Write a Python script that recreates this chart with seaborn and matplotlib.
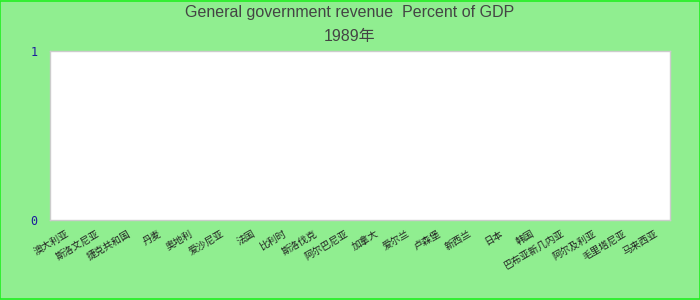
import numpy as np
import pandas as pd
import matplotlib
matplotlib.use("Agg")
import matplotlib.pyplot as plt
import seaborn as sns
from matplotlib.patches import Rectangle

# ---- data -------------------------------------------------------------
title_line1 = "General government revenue  Percent of GDP"
title_line2 = "1989年"
categories = ["澳大利亚", "斯洛文尼亚", "捷克共和国", "丹麦", "奥地利", "爱沙尼亚",
              "法国", "比利时", "斯洛伐克", "阿尔巴尼亚", "加拿大", "爱尔兰",
              "卢森堡", "新西兰", "日本", "韩国", "巴布亚新几内亚", "阿尔及利亚",
              "毛里塔尼亚", "马来西亚"]
values = [np.nan] * len(categories)   # no data reported for 1989
y_ticks = [0, 1]
y_limits = (0, 1)

df = pd.DataFrame({"country": categories, "value": values})

# ---- figure -----------------------------------------------------------
sns.set_theme(style="white")
plt.rcParams["font.family"] = ["Noto Sans CJK SC", "DejaVu Sans"]

bg = "#90EE90"
fig = plt.figure(figsize=(7, 3), dpi=100, facecolor=bg)
ax = fig.add_axes([50 / 700, 1 - 220 / 300, 620 / 700, 169 / 300])
ax.set_facecolor("white")

sns.barplot(data=df, x="country", y="value", order=categories, ax=ax,
            color="#4472c4")

ax.set_xlim(-0.5, len(categories) - 0.5)
ax.set_ylim(*y_limits)
ax.set_yticks(y_ticks)
ax.set_yticklabels([str(t) for t in y_ticks], family="DejaVu Sans Mono",
                   fontsize=8.5, color="#1c1c9c")
ax.set_xticks(range(len(categories)))
ax.set_xticklabels(categories, rotation=30, ha="right", rotation_mode="anchor",
                   fontsize=7, color="#222222",
                   family=["Noto Sans CJK SC", "DejaVu Sans"])
ax.tick_params(axis="both", length=0)
ax.tick_params(axis="y", pad=9)
ax.tick_params(axis="x", pad=6)
ax.set_xlabel("")
ax.set_ylabel("")
ax.grid(False)
for s in ax.spines.values():
    s.set_color("#cccccc")
    s.set_linewidth(1)

fig.text(0.5, 1 - 13 / 300, title_line1, ha="center", va="center",
         fontsize=11.5, color="#444444", family=["Liberation Sans", "DejaVu Sans"])
fig.text(0.5, 1 - 37 / 300, title_line2, ha="center", va="center",
         fontsize=11.5, color="#444444",
         family=["Liberation Sans", "Noto Sans CJK SC", "DejaVu Sans"])

fig.patches.append(Rectangle((0.0007, 0.0017), 0.9986, 0.9966, transform=fig.transFigure,
                             fill=False, edgecolor="#22ee22", linewidth=1.2))

fig.savefig("out.png", dpi=100, facecolor=bg)
